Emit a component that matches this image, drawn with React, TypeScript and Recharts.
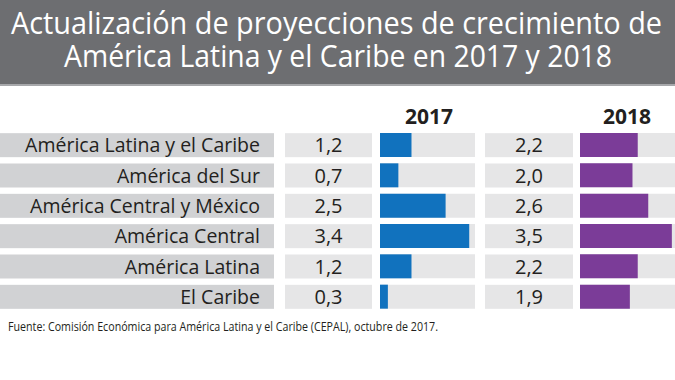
import React from 'react';
import { BarChart, Bar, XAxis, YAxis } from 'recharts';

// regiones y proyecciones de crecimiento (%)
const regions = [
  'América Latina y el Caribe',
  'América del Sur',
  'América Central y México',
  'América Central',
  'América Latina',
  'El Caribe',
];
const growth2017 = [1.2, 0.7, 2.5, 3.4, 1.2, 0.3];
const growth2018 = [2.2, 2.0, 2.6, 3.5, 2.2, 1.9];
const years = ['2017', '2018'];

const titleLines = [
  'Actualización de proyecciones de crecimiento de',
  'América Latina y el Caribe en 2017 y 2018',
];
const source = 'Fuente: Comisión Económica para América Latina y el Caribe (CEPAL), octubre de 2017.';

const data = regions.map((region, i) => ({
  region,
  v2017: growth2017[i],
  v2018: growth2018[i],
}));

const FONT = '"Open Sans", sans-serif';
const TEXT = '#231f20';
const LABEL_BG = '#d1d2d4';
const CELL_BG = '#e6e6e7';
const BLUE = '#1172be';
const PURPLE = '#7b3c98';
const MAX = 3.62;

const fmt = (v: number) => v.toFixed(1).replace('.', ',');

// tick del primer gráfico: celda de región + celda de valor 2017
const LeftTick = (props: any) => {
  const { y, payload, index } = props;
  const i = index ?? regions.indexOf(payload.value);
  return (
    <g>
      <rect x={0} y={y - 12} width={274} height={24} fill={LABEL_BG} />
      <text x={260} y={y} dy="0.36em" textAnchor="end" fontSize={19.5} fontFamily={FONT} fill={TEXT}>
        {payload.value}
      </text>
      <rect x={285} y={y - 12} width={87} height={24} fill={CELL_BG} />
      <text x={328.5} y={y} dy="0.36em" textAnchor="middle" fontSize={20} fontFamily={FONT} fill={TEXT}>
        {fmt(growth2017[i])}
      </text>
    </g>
  );
};

// tick del segundo gráfico: celda de valor 2018
const RightTick = (props: any) => {
  const { y, payload, index } = props;
  const i = index ?? regions.indexOf(payload.value);
  return (
    <g>
      <rect x={0} y={y - 12} width={88} height={24} fill={CELL_BG} />
      <text x={44} y={y} dy="0.36em" textAnchor="middle" fontSize={20} fontFamily={FONT} fill={TEXT}>
        {fmt(growth2018[i])}
      </text>
    </g>
  );
};

const margin = { top: 130, bottom: 68, left: 0, right: 0 };

export default function App() {
  return (
    <div style={{ position: 'relative', width: 675, height: 380, background: '#fff', overflow: 'hidden' }}>
      <style>{'body{margin:0}'}</style>

      <div style={{ position: 'absolute', left: 0, top: 0 }}>
        <BarChart width={475} height={380} layout="vertical" data={data} margin={margin}>
          <XAxis type="number" domain={[0, MAX]} hide />
          <YAxis
            type="category"
            dataKey="region"
            width={380}
            axisLine={false}
            tickLine={false}
            tick={<LeftTick />}
          />
          <Bar dataKey="v2017" fill={BLUE} barSize={24} background={{ fill: CELL_BG }} isAnimationActive={false} />
        </BarChart>
      </div>

      <div style={{ position: 'absolute', left: 485, top: 0 }}>
        <BarChart width={190} height={380} layout="vertical" data={data} margin={margin}>
          <XAxis type="number" domain={[0, MAX]} hide />
          <YAxis
            type="category"
            dataKey="region"
            width={95}
            axisLine={false}
            tickLine={false}
            tick={<RightTick />}
          />
          <Bar dataKey="v2018" fill={PURPLE} barSize={24} background={{ fill: CELL_BG }} isAnimationActive={false} />
        </BarChart>
      </div>

      <svg width={675} height={380} style={{ position: 'absolute', left: 0, top: 0, pointerEvents: 'none' }}>
        <rect x={0} y={0} width={675} height={84} fill="#6d6e71" />
        <rect x={0} y={84} width={675} height={2} fill="#a7a8ab" />
        <text x={11} y={34} fontSize={31} fontFamily={FONT} fill="#fff" textLength={651} lengthAdjust="spacingAndGlyphs">
          {titleLines[0]}
        </text>
        <text x={64} y={67} fontSize={31} fontFamily={FONT} fill="#fff" textLength={548} lengthAdjust="spacingAndGlyphs">
          {titleLines[1]}
        </text>
        <text x={429} y={124} fontSize={21} fontWeight="bold" fontFamily={FONT} fill={TEXT} textAnchor="middle">
          {years[0]}
        </text>
        <text x={627} y={124} fontSize={21} fontWeight="bold" fontFamily={FONT} fill={TEXT} textAnchor="middle">
          {years[1]}
        </text>
        <text x={8} y={331} fontSize={12} fontFamily={FONT} fill={TEXT} textLength={430} lengthAdjust="spacingAndGlyphs">
          {source}
        </text>
      </svg>
    </div>
  );
}
